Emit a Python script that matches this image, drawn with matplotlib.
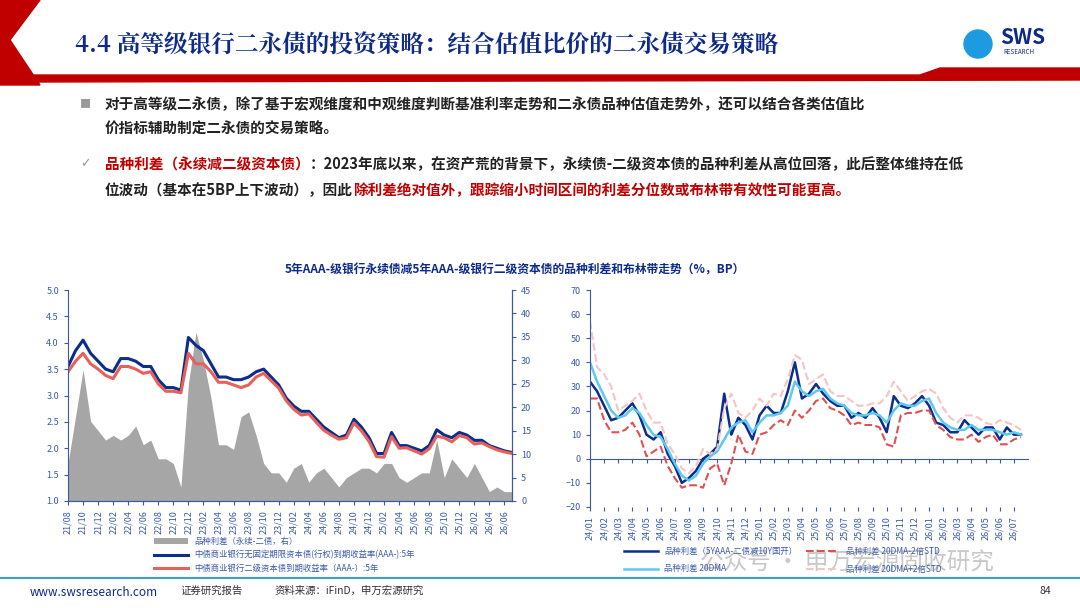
import matplotlib
matplotlib.use("Agg")
import matplotlib.pyplot as plt
from matplotlib.patches import Polygon
import numpy as np

plt.rcParams["font.family"] = ["Noto Sans CJK SC", "DejaVu Sans"]

NAVY = "#0d2a8a"
AX = "#3a5aa8"
RED = "#c00000"

# ---- left chart data (monthly, 21/08 .. 26/07) ----
left_months = [f"{y:02d}/{m:02d}" for y in range(21, 27) for m in range(1, 13)][7:67]
yield_perp = [3.55, 3.85, 4.05, 3.8, 3.65, 3.5, 3.45, 3.7, 3.7, 3.65, 3.55, 3.55, 3.3, 3.15, 3.15, 3.1,
              4.1, 3.95, 3.85, 3.6, 3.35, 3.35, 3.3, 3.3, 3.35, 3.45, 3.5, 3.35, 3.2, 2.95, 2.8, 2.7,
              2.7, 2.55, 2.4, 2.3, 2.2, 2.25, 2.55, 2.4, 2.2, 1.9, 1.9, 2.3, 2.05, 2.05, 2.0, 1.95,
              2.05, 2.35, 2.25, 2.2, 2.3, 2.25, 2.15, 2.15, 2.05, 2.0, 1.95, 1.92]
yield_t2 = [3.45, 3.65, 3.8, 3.6, 3.5, 3.38, 3.32, 3.55, 3.55, 3.5, 3.42, 3.45, 3.22, 3.08, 3.08, 3.05,
            3.8, 3.6, 3.6, 3.45, 3.25, 3.25, 3.2, 3.15, 3.2, 3.35, 3.42, 3.28, 3.14, 2.9, 2.74, 2.63,
            2.65, 2.49, 2.34, 2.25, 2.17, 2.2, 2.48, 2.33, 2.13, 1.84, 1.83, 2.22, 2.0, 2.01, 1.95,
            1.89, 1.99, 2.23, 2.2, 2.12, 2.24, 2.2, 2.08, 2.1, 2.03, 1.97, 1.93, 1.9]
spread_left = [8, 18, 28, 17, 15, 13, 14, 13, 14, 16, 12, 13, 9, 9, 8, 3, 25, 36, 30, 22, 12, 12, 11,
               18, 19, 14, 8, 6, 6, 4, 7, 8, 4, 6, 7, 5, 3, 5, 6, 7, 7, 6, 8, 8, 5, 4, 5, 6, 6, 13,
               5, 9, 7, 5, 8, 5, 2, 3, 2, 2]

# ---- right chart data (half-monthly, 24/01 .. 26/07) ----
right_months = [f"{y:02d}/{m:02d}" for y in range(24, 27) for m in range(1, 13)][:31]
spread_r = [32, 28, 22, 16, 17, 20, 23, 18, 10, 8, 11, 2, -3, -10, -8, -5, 0, 2, 5, 27, 10, 17, 14, 8,
            18, 22, 19, 19, 28, 40, 25, 27, 31, 27, 24, 22, 22, 17, 19, 17, 21, 17, 11, 26, 22, 21,
            23, 26, 22, 15, 14, 11, 11, 16, 13, 10, 13, 13, 8, 13, 10, 10]
ma20 = [40, 32, 26, 20, 17, 18, 21, 19, 14, 10, 9, 4, -2, -7, -9, -7, -2, 1, 3, 8, 13, 15, 16, 11,
        15, 18, 18, 19, 22, 32, 28, 26, 28, 29, 25, 23, 22, 19, 18, 18, 19, 18, 15, 20, 23, 22,
        22, 24, 25, 19, 15, 13, 12, 12, 14, 12, 12, 12, 11, 10, 11, 10]
band_up = [57, 38, 35, 30, 20, 22, 24, 27, 20, 15, 15, 6, 2, -4, -6, -3, 4, 2, 4, 21, 27, 19, 17, 20,
           25, 22, 27, 26, 33, 43, 41, 31, 33, 35, 28, 26, 26, 24, 22, 22, 23, 23, 26, 32, 28, 24,
           26, 28, 29, 27, 21, 17, 15, 18, 18, 17, 15, 14, 16, 15, 14, 12]
band_lo = [25, 25, 16, 11, 11, 12, 15, 10, 1, 3, 5, -3, -8, -12, -11, -11, -12, -4, -2, -11, -2, 10,
           3, 2, 10, 11, 14, 16, 14, 20, 17, 20, 24, 25, 21, 20, 18, 14, 15, 14, 14, 13, 6, 5, 18,
           19, 19, 20, 20, 14, 12, 9, 8, 8, 10, 7, 9, 10, 6, 6, 8, 9]

W, H = 1080, 608
fig = plt.figure(figsize=(W / 100, H / 100), dpi=100)
bg = fig.add_axes([0, 0, 1, 1]); bg.set_xlim(0, W); bg.set_ylim(H, 0); bg.axis("off")
rend = fig.canvas.get_renderer()


def runs(x, y, parts, **kw):
    # draw consecutive text runs of different colours on one line
    for s, col in parts:
        t = bg.text(x, y, s, color=col, va="center", **kw)
        bb = t.get_window_extent(rend)
        x += bb.width


# header
bg.add_patch(Polygon([[0, 0], [40, 0], [10, 40], [40, 85], [0, 85]], color=RED))
bg.add_patch(Polygon([[30, 75], [920, 75], [940, 68], [1080, 68], [1080, 80], [30, 82]], color=RED))
bg.text(75, 46, "4.4 高等级银行二永债的投资策略：结合估值比价的二永债交易策略", fontsize=17,
        fontweight="bold", color=NAVY, va="center", family=["Noto Serif CJK SC", "Noto Sans CJK SC"])
bg.text(1000, 38, "SWS", fontsize=15, fontweight="bold", color=NAVY, va="center")
bg.text(1003, 52, "RESEARCH", fontsize=4.5, color=NAVY, va="center")
bg.add_patch(plt.Circle((978, 44), 14, color="#1e9be0"))

# bullets
kw = dict(fontsize=10.5, fontweight="bold")
K = "#222222"
bg.text(80, 104, "■", fontsize=8, color="#999999", va="center")
runs(105, 104, [("对于高等级二永债，除了基于宏观维度和中观维度判断基准利率走势和二永债品种估值走势外，还可以结合各类估值比", K)], **kw)
runs(105, 129, [("价指标辅助制定二永债的交易策略。", K)], **kw)
bg.text(80, 164, "✓", fontsize=9, color="#999999", va="center", family="DejaVu Sans")
runs(105, 164, [("品种利差（永续减二级资本债）", RED),
                ("：2023年底以来，在资产荒的背景下，永续债-二级资本债的品种利差从高位回落，此后整体维持在低", K)], **kw)
runs(105, 190, [("位波动（基本在5BP上下波动），因此", K),
                ("除利差绝对值外，跟踪缩小时间区间的利差分位数或布林带有效性可能更高。", RED)], **kw)
bg.text(515, 270, "5年AAA-级银行永续债减5年AAA-级银行二级资本债的品种利差和布林带走势（%，BP）",
        fontsize=8.5, fontweight="bold", color=NAVY, ha="center", va="center")

# footer
bg.plot([0, W], [578, 578], color="#3aa0d8", lw=1.5)
bg.text(30, 592, "www.swsresearch.com", fontsize=8.5, color=NAVY, va="center")
bg.text(180, 591, "证券研究报告", fontsize=7.5, color="#333333", va="center")
bg.text(275, 591, "资料来源：iFinD，申万宏源研究", fontsize=7.5, color="#333333", va="center")
bg.text(1040, 591, "84", fontsize=7.5, color="#333333", va="center")


def style(ax):
    for s in ax.spines.values():
        s.set_color(AX)
    ax.spines["top"].set_visible(False)
    ax.tick_params(colors=AX, labelsize=6.5, length=3)


# left chart
axl = fig.add_axes([68 / W, 1 - 501 / H, 444 / W, 211 / H])
axr2 = axl.twinx()
xl = np.arange(len(left_months))
axr2.fill_between(xl, 0, spread_left, color="#a6a6a6", lw=0, label="品种利差（永续-二债，右）")
axr2.set_ylim(0, 45); axr2.set_yticks(range(0, 46, 5))
axl.set_zorder(axr2.get_zorder() + 1); axl.patch.set_visible(False)
l1, = axl.plot(xl, yield_perp, color="#0b2d8c", lw=2.2, label="中债商业银行无固定期限资本债(行权)到期收益率(AAA-):5年")
l2, = axl.plot(xl, yield_t2, color="#e8605a", lw=2.2, label="中债商业银行二级资本债到期收益率（AAA-）:5年")
axl.set_ylim(1.0, 5.0); axl.set_yticks(np.arange(1.0, 5.01, 0.5))
axl.yaxis.set_major_formatter(matplotlib.ticker.FormatStrFormatter("%.1f"))
axl.set_xlim(0, len(left_months) - 1)
axl.set_xticks(xl[::2]); axl.set_xticklabels(left_months[::2], rotation=90)
style(axl); style(axr2); axr2.spines["left"].set_visible(False)
h0 = axr2.get_legend_handles_labels()[0][0]
fig.legend([h0, l1, l2], [h0.get_label(), l1.get_label(), l2.get_label()], loc="upper left",
           bbox_to_anchor=(150 / W, 1 - 533 / H), frameon=False, fontsize=6, labelcolor=AX,
           handlelength=4, borderpad=0, labelspacing=0.5)

# right chart
ax = fig.add_axes([590 / W, 1 - 507 / H, 438 / W, 217 / H])
xr = np.arange(len(spread_r)) / 2
a, = ax.plot(xr, spread_r, color="#0b2d8c", lw=1.8, label="品种利差（5YAAA-二债减10Y国开）")
b, = ax.plot(xr, band_lo, color="#e05050", lw=1.5, ls="--", label="品种利差 20DMA-2倍STD")
c, = ax.plot(xr, ma20, color="#5ec8f0", lw=1.8, label="品种利差 20DMA")
d, = ax.plot(xr, band_up, color="#f5c4c4", lw=1.5, ls="--", label="品种利差 20DMA+2倍STD")
ax.set_ylim(-20, 70); ax.set_yticks(range(-20, 71, 10))
ax.set_xlim(0, xr[-1] + 0.5)
ax.set_xticks(range(len(right_months))); ax.set_xticklabels(right_months, rotation=90)
ax.tick_params(axis="x", length=0)
ax.spines["bottom"].set_visible(False); ax.spines["right"].set_visible(False)
style(ax)
zero = ax.secondary_xaxis(20 / 90)
zero.set_xticks(range(len(right_months))); zero.set_xticklabels([])
zero.spines["bottom"].set_color(AX); zero.tick_params(colors=AX, length=3)
ax.legend([a, c, b, d], [h.get_label() for h in (a, c, b, d)], loc="upper left", ncol=2,
          bbox_to_anchor=(620 / W, 1 - 543 / H), bbox_transform=fig.transFigure, frameon=False,
          fontsize=6, labelcolor=AX, handlelength=4, borderpad=0, columnspacing=1, labelspacing=1.0)

bg.text(700, 563, "公众号 · 申万宏源固收研究", fontsize=17, color="#bbbbbb", alpha=0.8, va="center")

fig.savefig("out.png", dpi=100)
